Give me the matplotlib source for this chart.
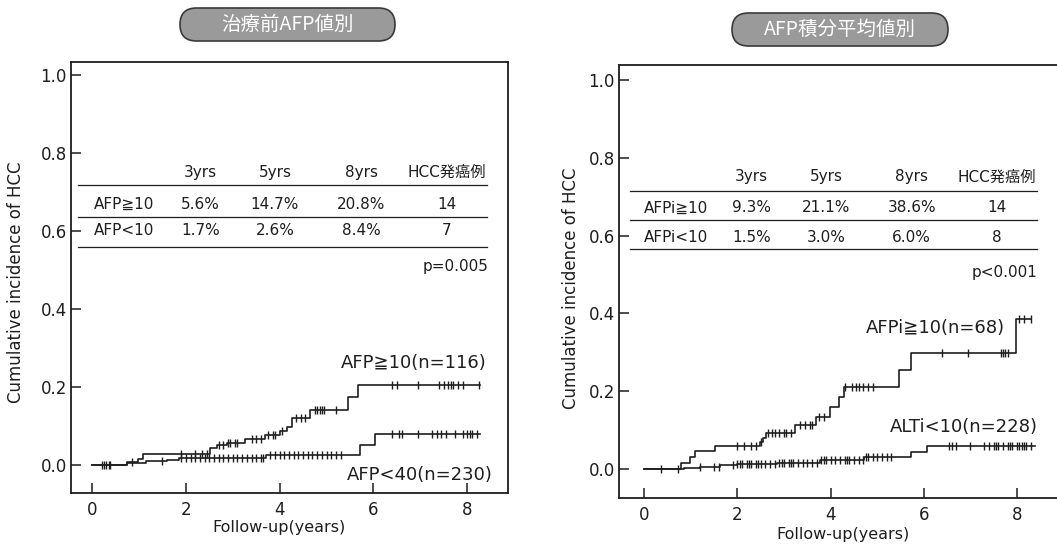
import numpy as np
import matplotlib
matplotlib.use("Agg")
import matplotlib.pyplot as plt
from matplotlib.patches import FancyBboxPatch

plt.rcParams['font.family'] = ['DejaVu Sans', 'Noto Sans CJK JP']

# ---- left panel: pre-treatment AFP ----
left_title = "治療前AFP値別"
hi_t = [0, 0.75, 0.98, 1.09, 2.52, 2.66, 2.88, 3.26, 3.69, 4.0, 4.15, 4.26, 4.65, 5.46, 5.68, 8.27]
hi_v = [0, 0.008, 0.014, 0.028, 0.044, 0.05, 0.056, 0.066, 0.077, 0.087, 0.097, 0.12, 0.142, 0.175, 0.205, 0.205]
hi_cens = [0.22, 0.3, 0.38, 0.85, 1.9, 2.2, 2.35, 2.45, 2.7, 2.8, 2.9, 2.95, 3.05, 3.1, 3.4, 3.5,
           3.6, 3.75, 3.85, 3.9, 4.05, 4.35, 4.45, 4.55, 4.75, 4.8, 4.85, 4.9, 4.95, 5.2,
           6.4, 6.5, 6.95, 7.4, 7.5, 7.6, 7.65, 7.7, 7.8, 7.9, 8.25]
lo_t = [0, 0.75, 0.95, 1.15, 1.6, 1.85, 3.7, 5.72, 6.03, 8.27]
lo_v = [0, 0.004, 0.006, 0.009, 0.013, 0.017, 0.025, 0.052, 0.08, 0.08]
lo_cens = [0.25, 0.35, 1.5, 1.9, 2.0, 2.1, 2.2, 2.3, 2.4, 2.5, 2.6, 2.7, 2.8, 2.9, 3.0, 3.1,
           3.2, 3.3, 3.4, 3.5, 3.6, 3.65, 3.8, 3.9, 4.0, 4.1, 4.2, 4.3, 4.4, 4.5, 4.6, 4.7,
           4.8, 4.9, 5.0, 5.1, 5.2, 5.3, 6.4, 6.55, 6.6, 6.95, 7.25, 7.35, 7.45, 7.55, 7.75,
           7.9, 8.0, 8.05, 8.1, 8.2]
left_rows = [["AFP≧10", "5.6%", "14.7%", "20.8%", "14"],
             ["AFP<10", "1.7%", "2.6%", "8.4%", "7"]]
left_p = "p=0.005"
left_labels = ["AFP≧10(n=116)", "AFP<40(n=230)"]

# ---- right panel: AFP integrated mean ----
right_title = "AFP積分平均値別"
rhi_t = [0, 0.80, 0.98, 1.09, 1.52, 2.48, 2.55, 2.62, 3.24, 3.69, 3.99, 4.18, 4.28, 5.46, 5.72, 7.98, 8.30]
rhi_v = [0, 0.015, 0.03, 0.045, 0.06, 0.07, 0.08, 0.093, 0.113, 0.134, 0.16, 0.185, 0.21, 0.254, 0.299, 0.386, 0.386]
rhi_cens = [0.37, 0.72, 2.0, 2.15, 2.3, 2.4, 2.5, 2.65, 2.75, 2.8, 2.9, 3.0, 3.05, 3.15, 3.35,
            3.45, 3.55, 3.6, 3.75, 3.85, 4.3, 4.45, 4.55, 4.6, 4.7, 4.8, 4.9, 6.4, 6.95,
            7.65, 7.7, 7.75, 7.8, 8.05, 8.15, 8.3]
rlo_t = [0, 0.85, 1.2, 1.63, 2.0, 2.84, 3.78, 4.71, 5.72, 6.07, 8.38]
rlo_v = [0, 0.002, 0.005, 0.009, 0.012, 0.016, 0.022, 0.03, 0.043, 0.06, 0.06]
rlo_cens = [1.2, 1.5, 1.6, 1.9, 2.0, 2.05, 2.1, 2.2, 2.25, 2.3, 2.4, 2.45, 2.5, 2.6, 2.7,
            2.8, 2.9, 2.95, 3.0, 3.1, 3.15, 3.2, 3.3, 3.4, 3.5, 3.6, 3.7, 3.8, 3.85, 3.9,
            4.0, 4.1, 4.2, 4.3, 4.35, 4.4, 4.5, 4.6, 4.7, 4.75, 4.8, 4.9, 5.0, 5.1, 5.2, 5.3,
            6.55, 6.6, 6.7, 7.0, 7.3, 7.4, 7.5, 7.55, 7.6, 7.7, 7.8, 7.85, 7.9, 8.0, 8.05,
            8.1, 8.15, 8.2, 8.3]
right_rows = [["AFPi≧10", "9.3%", "21.1%", "38.6%", "14"],
              ["AFPi<10", "1.5%", "3.0%", "6.0%", "8"]]
right_p = "p<0.001"
right_labels = ["AFPi≧10(n=68)", "ALTi<10(n=228)"]

header = ["3yrs", "5yrs", "8yrs", "HCC発癌例"]
col_x = [2.31, 3.9, 5.74, 7.57]
ink = "#1e1e1e"

fig = plt.figure(figsize=(10.57, 5.44), dpi=100)
axL = fig.add_axes([0.0672, 0.0938, 0.4134, 0.792])
axR = fig.add_axes([0.5856, 0.0846, 0.422, 0.796])


def km(ax, t, v, cens):
    ax.step(t, v, where="post", color=ink, lw=1.2)
    idx = np.searchsorted(t, cens, side="right") - 1
    ax.plot(cens, np.array(v)[idx], ls="none", marker="|", ms=6, mew=1.0, color=ink)


def setup(ax, xlim, ylim):
    ax.set_xlim(*xlim)
    ax.set_ylim(*ylim)
    ax.set_xticks([0, 2, 4, 6, 8])
    ax.set_yticks([0, 0.2, 0.4, 0.6, 0.8, 1.0])
    ax.set_yticklabels(["0.0", "0.2", "0.4", "0.6", "0.8", "1.0"])
    ax.tick_params(direction="in", length=7, width=1.1, labelsize=12, colors=ink,
                   top=False, right=False)
    ax.tick_params(axis="y", pad=3)
    ax.tick_params(axis="x", pad=6)
    for s in ax.spines.values():
        s.set_linewidth(1.3)
        s.set_color(ink)
    ax.set_ylabel("Cumulative incidence of HCC", fontsize=12, color=ink)
    ax.set_xlabel("Follow-up(years)", fontsize=11.5, color=ink)


def table(ax, rows, p, ys):
    hy, l1, r1, l2, r2, l3, py = ys
    for x, h in zip(col_x, header):
        ax.text(x, hy, h, ha="center", va="center", fontsize=11, color=ink)
    for yy in (l1, l2, l3):
        ax.plot([-0.3, 8.42], [yy, yy], color=ink, lw=0.9)
    for yy, row in zip((r1, r2), rows):
        ax.text(0.68, yy, row[0], ha="center", va="center", fontsize=11, color=ink)
        for x, val in zip(col_x, row[1:]):
            ax.text(x, yy, val, ha="center", va="center", fontsize=11, color=ink)
    ax.text(8.45, py, p, ha="right", va="center", fontsize=11, color=ink)


setup(axL, (-0.45, 8.87), (-0.072, 1.033))
km(axL, hi_t, hi_v, hi_cens)
km(axL, lo_t, lo_v, lo_cens)
table(axL, left_rows, left_p, (0.751, 0.718, 0.667, 0.636, 0.600, 0.559, 0.508))
axL.text(8.42, 0.262, left_labels[0], ha="right", va="center", fontsize=13, color=ink)
axL.text(8.55, -0.025, left_labels[1], ha="right", va="center", fontsize=13, color=ink)
axL.yaxis.set_label_coords(-0.105, 0.49)
axL.xaxis.set_label_coords(0.476, -0.062)

setup(axR, (-0.54, 9.03), (-0.075, 1.039))
km(axR, rhi_t, rhi_v, rhi_cens)
km(axR, rlo_t, rlo_v, rlo_cens)
table(axR, right_rows, right_p, (0.751, 0.715, 0.671, 0.640, 0.596, 0.566, 0.504))
axR.text(7.75, 0.362, right_labels[0], ha="right", va="center", fontsize=13, color=ink)
axR.text(8.45, 0.108, right_labels[1], ha="right", va="center", fontsize=13, color=ink)
axR.yaxis.set_label_coords(-0.087, 0.485)
axR.xaxis.set_label_coords(0.502, -0.066)

# pill shaped titles
for (x0, y0, w, h), txt in [((1.80, 5.03, 2.15, 0.33), left_title),
                            ((7.32, 4.98, 2.16, 0.33), right_title)]:
    pill = FancyBboxPatch((x0, y0), w, h, boxstyle="round,pad=0,rounding_size=0.165",
                          transform=fig.dpi_scale_trans, fc="#9a9a9a", ec="#3a3a3a", lw=1.2)
    fig.patches.append(pill)
    fig.text((x0 + w / 2) / 10.57, (y0 + h / 2) / 5.44, txt, ha="center", va="center",
             fontsize=14, color="white", family=["Noto Sans CJK JP", "DejaVu Sans"])

fig.savefig("out.png", dpi=100)
